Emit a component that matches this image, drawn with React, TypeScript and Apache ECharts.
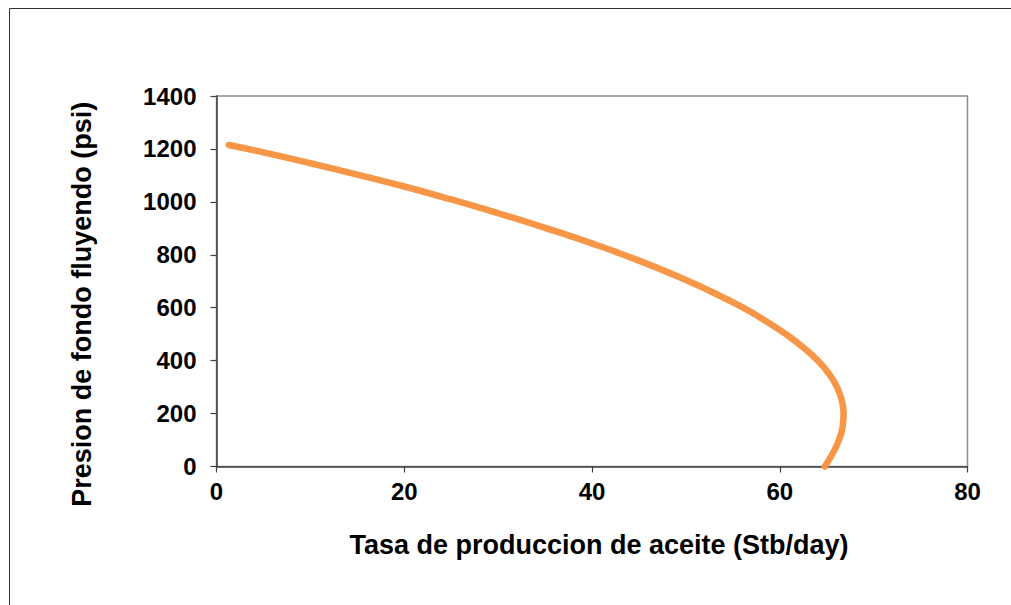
import React, { useEffect, useRef } from "react";
import * as echarts from "echarts";

const rate = [1.3, 5, 10, 15, 20, 25, 30, 35, 40, 45, 50, 52.5, 56.1, 58.5, 60.65, 62.5, 64.05, 65.25, 66.1, 66.6, 66.8, 66.7, 66.3, 65.65, 64.8];
const pressure = [1215, 1187, 1146, 1103, 1058, 1009, 957, 902, 843, 778, 705, 664, 600, 550, 500, 450, 400, 350, 300, 250, 200, 150, 100, 50, 0];

const xTitle = "Tasa de produccion de aceite (Stb/day)";
const yTitle = "Presion de fondo fluyendo (psi)";

const FONT = '"Liberation Sans", Arial, sans-serif';

export default function App() {
  const ref = useRef<HTMLDivElement>(null);
  useEffect(() => {
    if (!ref.current) return;
    const chart = echarts.init(ref.current, undefined, { renderer: "svg" });
    const data = rate.map((q, i) => [q, pressure[i]]);
    chart.setOption({
      animation: false,
      backgroundColor: "#ffffff",
      grid: {
        left: 216.5,
        top: 96,
        width: 751,
        height: 370.5,
        show: true,
        borderColor: "#8c8c8c",
        borderWidth: 1.5,
        backgroundColor: "transparent",
      },
      graphic: [
        {
          type: "rect",
          shape: { x: 9.5, y: 8.5, width: 1100, height: 700 },
          style: { fill: "none", stroke: "#333333", lineWidth: 1 },
          silent: true,
        },
      ],
      xAxis: {
        type: "value",
        min: 0,
        max: 80,
        interval: 20,
        name: xTitle,
        nameLocation: "middle",
        nameGap: 65,
        nameTextStyle: {
          fontSize: 27,
          fontWeight: "bold",
          fontFamily: FONT,
          color: "#000",
          padding: [0, 0, 0, 14],
        },
        axisLine: { show: true, lineStyle: { color: "#404040", width: 1.5 } },
        axisTick: { show: true, inside: false, length: 6, lineStyle: { color: "#404040", width: 1.2 } },
        axisLabel: { fontSize: 24, fontWeight: "bold", fontFamily: FONT, color: "#000", margin: 13 },
        splitLine: { show: false },
      },
      yAxis: {
        type: "value",
        min: 0,
        max: 1400,
        interval: 200,
        name: yTitle,
        nameLocation: "middle",
        nameGap: 121,
        nameRotate: 90,
        nameTextStyle: {
          fontSize: 27,
          fontWeight: "bold",
          fontFamily: FONT,
          color: "#000",
          padding: [0, 46, 0, 0],
        },
        axisLine: { show: true, lineStyle: { color: "#404040", width: 1.5 } },
        axisTick: { show: true, inside: false, length: 6, lineStyle: { color: "#404040", width: 1.2 } },
        axisLabel: {
          fontSize: 24,
          fontWeight: "bold",
          fontFamily: FONT,
          color: "#000",
          margin: 20,
          formatter: (v: number) => String(v),
        },
        splitLine: { show: false },
      },
      series: [
        {
          type: "line",
          data,
          smooth: 0.5,
          showSymbol: false,
          symbol: "none",
          lineStyle: { color: "#F79646", width: 6.5, cap: "round", join: "round" },
          clip: false,
        },
      ],
    });
    return () => chart.dispose();
  }, []);
  return (
    <div
      ref={ref}
      style={{ position: "fixed", left: 0, top: 0, width: 1011, height: 605, background: "#fff" }}
    />
  );
}
